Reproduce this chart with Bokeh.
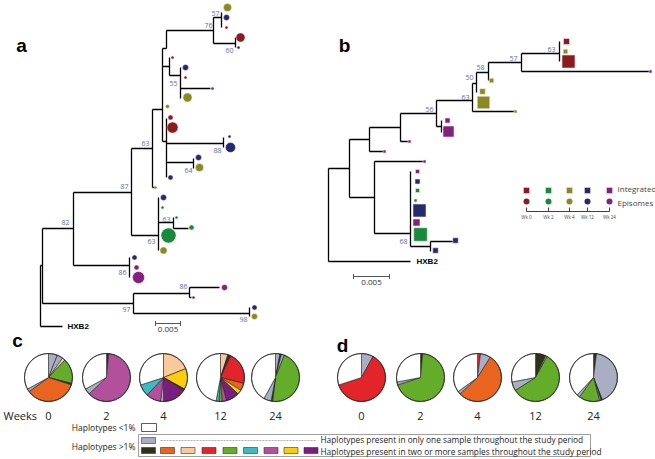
import math
from bokeh.plotting import figure
from bokeh.models import Range1d
from bokeh.core.properties import value
from bokeh.embed import file_html
from bokeh.resources import INLINE

# ---------------- data ----------------
TIP_COLORS = {"r": "#8c1b1f", "g": "#198a3b", "o": "#8a8a20", "n": "#252a6e", "p": "#84207f"}
PIE_COLORS = {"white": "#ffffff", "gray": "#a9aec3", "orange": "#e8641f", "peach": "#f9c99b",
              "red": "#e2252a", "green": "#63ad2b", "teal": "#3ebac3", "pink": "#b3509b",
              "yellow": "#fccd0c", "purple": "#7a1e7e", "dark": "#2f3119"}

# tree a: horizontal branches (x0, x1, y), vertical connectors (x, y0, y1)
A_H = [(40, 62, 326), (40, 42, 265), (42, 73, 228), (73, 131, 192), (73, 129, 265),
       (42, 133, 303), (133, 189, 293), (189, 219, 287), (189, 191, 297), (133, 249, 313),
       (131, 152, 148), (131, 158, 235), (158, 173, 222), (173, 188, 228), (152, 155, 187),
       (152, 162, 109), (162, 166, 48), (166, 213, 30), (213, 221, 17), (213, 235, 43),
       (162, 169, 66), (169, 180, 75), (180, 210, 88), (162, 166, 141), (166, 223, 143),
       (166, 193, 162)]
A_V = [(40, 265, 326), (42, 228, 303), (73, 192, 265), (129, 257, 277), (133, 293, 313),
       (189, 287, 297), (249, 307, 316), (131, 148, 235), (158, 197, 250), (173, 217, 228),
       (152, 109, 187), (162, 48, 141), (166, 30, 48), (213, 17, 43), (221, 12, 27),
       (235, 37, 47), (169, 57, 75), (180, 67, 98), (166, 118, 177), (223, 137, 147),
       (193, 158, 168)]
A_TIPS_X = [227, 226, 226, 240, 238, 172, 185, 185, 187, 212, 167, 170, 172, 229, 230, 198, 199,
            170, 155, 163, 162, 176, 191, 168, 163, 134, 136, 138, 224, 193, 254, 254]
A_TIPS_Y = [7, 17, 27, 37, 47, 57, 67, 77, 97, 88, 106, 117, 127, 136, 147, 157, 167,
            177, 187, 197, 207, 217, 227, 235, 250, 257, 267, 277, 287, 297, 307, 316]
A_TIPS_R = [4, 3, 1.5, 4.5, 1.5, 1.5, 3, 1.5, 4.5, 1.5, 2, 2.5, 5.5, 1.5, 5, 3, 4,
            2.5, 1.5, 3, 1.5, 1.5, 2.5, 7.5, 3.5, 2.5, 2.5, 6, 3, 1.5, 2.5, 3]
A_TIPS_C = ["o", "n", "r", "r", "n", "r", "n", "r", "o", "p", "o", "r", "r", "n", "n", "n", "o",
            "n", "o", "n", "g", "g", "g", "g", "o", "n", "p", "p", "p", "p", "n", "o"]
A_BOOT_X = [215, 208, 229, 173, 145, 217, 188, 124, 65, 166, 151, 122, 183, 126, 243]
A_BOOT_Y = [13, 25, 50, 83, 143, 150, 170, 186, 222, 219, 241, 272, 286, 309, 319]
A_BOOT_T = ["57", "76", "60", "55", "63", "88", "64", "87", "82", "63", "63", "86", "86", "97", "98"]

# tree b
B_H = [(328, 410, 261), (328, 349, 168), (349, 369, 139), (369, 383, 151), (369, 400, 127),
       (400, 409, 141), (400, 436, 113), (436, 441, 126), (436, 472, 100), (472, 515, 111),
       (472, 476, 83), (476, 488, 72), (488, 521, 62), (521, 649, 71), (521, 559, 53),
       (349, 374, 197), (374, 424, 161), (374, 410, 233), (410, 430, 246), (430, 453, 241)]
B_V = [(328, 168, 261), (349, 139, 197), (369, 127, 151), (400, 113, 141), (436, 100, 126),
       (441, 120, 132), (472, 83, 111), (476, 72, 92), (488, 62, 80), (521, 53, 71),
       (559, 41, 61), (374, 161, 233), (410, 171, 246), (430, 241, 251)]
B_TIPS_X = [566, 565, 568, 650, 491, 482, 483, 515, 447, 448, 409, 384, 424,
            417, 417, 417, 415, 419, 416, 420, 455, 435]
B_TIPS_Y = [41, 51, 61, 71, 80, 91, 102, 111, 120, 131, 141, 151, 161,
            171, 181, 190, 200, 210, 222, 234, 240, 250]
B_TIPS_S = [6, 4.5, 13, 3, 4.5, 5.5, 12.5, 3, 5, 11, 3, 3, 3,
            4, 5, 4, 3, 13, 7, 13.5, 5.5, 5.5]
B_TIPS_C = ["r", "o", "r", "p", "o", "o", "o", "o", "p", "p", "p", "p", "p",
            "p", "n", "g", "g", "n", "p", "g", "n", "n"]
B_BOOT_X = [551, 513, 480, 469, 465, 429, 403]
B_BOOT_Y = [49, 58, 67, 77, 97, 109, 241]
B_BOOT_T = ["63", "57", "58", "50", "63", "56", "68"]

LEG_X = [526, 548, 569, 587, 609]
LEG_C = ["r", "g", "o", "n", "p"]
LEG_WK = ["Wk 0", "Wk 2", "Wk 4", "Wk 12", "Wk 24"]

WEEKS = ["0", "2", "4", "12", "24"]
PIE_C_X = [48, 106, 163, 220, 275]
PIE_D_X = [361, 420, 477, 535, 593]
PIE_Y = 377
PIE_R = 24

PIES_C = [
    [("gray", .06), ("gray", .04), ("peach", .02), ("green", .17), ("dark", .01), ("orange", .35), ("gray", .02), ("white", .33)],
    [("dark", .015), ("pink", .615), ("gray", .04), ("white", .33)],
    [("peach", .19), ("yellow", .14), ("dark", .01), ("purple", .16), ("gray", .02), ("pink", .10), ("teal", .08), ("white", .30)],
    [("peach", .05), ("dark", .01), ("dark", .01), ("red", .22), ("orange", .05), ("yellow", .03), ("purple", .09), ("pink", .03), ("green", .02), ("teal", .02), ("white", .47)],
    [("gray", .03), ("dark", .01), ("gray", .02), ("green", .46), ("dark", .01), ("gray", .05), ("white", .42)],
]
PIES_D = [
    [("gray", .08), ("red", .62), ("white", .30)],
    [("dark", .015), ("green", .685), ("gray", .02), ("white", .28)],
    [("red", .02), ("gray", .07), ("orange", .54), ("gray", .02), ("white", .35)],
    [("dark", .07), ("gray", .01), ("green", .58), ("gray", .06), ("white", .28)],
    [("dark", .02), ("gray", .42), ("dark", .01), ("gray", .01), ("green", .14), ("gray", .02), ("white", .38)],
]
SHARED_KEYS = ["dark", "orange", "peach", "red", "green", "teal", "pink", "yellow", "purple"]

FONT = value("Open Sans")
BOOT_COLOR = "#5b6eae"

# ---------------- figure ----------------
p = figure(width=655, height=459, x_range=Range1d(0, 655), y_range=Range1d(459, 0),
           output_backend="svg", toolbar_location=None, min_border=0,
           x_axis_location=None, y_axis_location=None)
p.grid.visible = False
p.outline_line_color = None


def draw_tree(h, v, lw=1.3):
    p.segment(x0=[a for a, b, c in h], y0=[c for a, b, c in h], x1=[b for a, b, c in h], y1=[c for a, b, c in h],
              line_color="black", line_width=lw)
    p.segment(x0=[a for a, b, c in v], y0=[b for a, b, c in v], x1=[a for a, b, c in v], y1=[c for a, b, c in v],
              line_color="black", line_width=lw)


draw_tree(A_H, A_V)
draw_tree(B_H, B_V)

p.circle(x=A_TIPS_X, y=A_TIPS_Y, radius=A_TIPS_R, fill_color=[TIP_COLORS[c] for c in A_TIPS_C],
         line_color="white", line_width=0.4)
p.rect(x=B_TIPS_X, y=B_TIPS_Y, width=B_TIPS_S, height=B_TIPS_S,
       fill_color=[TIP_COLORS[c] for c in B_TIPS_C], line_color="#f4e6ea", line_width=0.6)

p.text(x=A_BOOT_X, y=A_BOOT_Y, text=A_BOOT_T, text_font=FONT, text_font_size="7px",
       text_color=BOOT_COLOR, text_align="center", text_baseline="middle")
p.text(x=B_BOOT_X, y=B_BOOT_Y, text=B_BOOT_T, text_font=FONT, text_font_size="7px",
       text_color=BOOT_COLOR, text_align="center", text_baseline="middle")

# HXB2 labels
p.text(x=[67, 416], y=[326, 261], text=["HXB2", "HXB2"], text_font=value("Liberation Sans"),
       text_font_style="bold", text_font_size="8px", text_align="left", text_baseline="middle")

# scale bars
for x0, x1, y in [(155, 180, 323), (353, 389, 276)]:
    p.segment(x0=[x0, x0, x1], y0=[y, y - 2.5, y - 2.5], x1=[x1, x0, x1], y1=[y, y + 2.5, y + 2.5],
              line_color="#555555", line_width=1)
    p.text(x=[(x0 + x1) / 2], y=[y + 6], text=["0.005"], text_font=FONT, text_font_size="8px",
           text_align="center", text_baseline="middle", text_color="#333333")

# panel letters
p.text(x=[21, 344, 17, 342], y=[45, 45, 340, 345], text=["a", "b", "c", "d"],
       text_font=value("Liberation Sans"), text_font_style="bold", text_font_size="19px",
       text_align="center", text_baseline="middle")

# legend of tree b
p.rect(x=LEG_X, y=[190] * 5, width=6, height=6, fill_color=[TIP_COLORS[c] for c in LEG_C],
       line_color="#f4e6ea", line_width=0.5)
p.circle(x=LEG_X, y=[201] * 5, radius=3, fill_color=[TIP_COLORS[c] for c in LEG_C], line_color=None)
p.segment(x0=[LEG_X[0]] + LEG_X, y0=[211] + [207] * 5, x1=[LEG_X[-1]] + LEG_X, y1=[211] * 6,
          line_color="#5d2c5c", line_width=1)
p.text(x=LEG_X, y=[216] * 5, text=LEG_WK, text_font=FONT, text_font_size="4.5px",
       text_align="center", text_baseline="middle", text_color="#444444")
p.text(x=[617, 617], y=[188, 202], text=["Integrated", "Episomes"], text_font=FONT,
       text_font_size="8px", text_align="left", text_baseline="middle", text_color="#444444")


# pies (slices run clockwise from 12 o'clock)
def draw_pies(xs, pies):
    for cx, pie in zip(xs, pies):
        total = sum(f for _, f in pie)
        acc = 0.0
        starts, ends, cols = [], [], []
        for key, f in pie:
            a = acc / total
            acc += f
            b = acc / total
            starts.append(math.pi / 2 - 2 * math.pi * b)
            ends.append(math.pi / 2 - 2 * math.pi * a)
            cols.append(PIE_COLORS[key])
        n = len(pie)
        p.wedge(x=[cx] * n, y=[PIE_Y] * n, radius=PIE_R, start_angle=starts, end_angle=ends,
                direction="anticlock", fill_color=cols, line_color="#222222", line_width=0.6)
        p.circle(x=[cx], y=[PIE_Y], radius=PIE_R, fill_color=None, line_color="#222222", line_width=0.8)


draw_pies(PIE_C_X, PIES_C)
draw_pies(PIE_D_X, PIES_D)

p.text(x=PIE_C_X + PIE_D_X, y=[415] * 10, text=WEEKS + WEEKS, text_font=FONT, text_font_size="11px",
       text_align="center", text_baseline="middle", text_color="#222222")
p.text(x=[3], y=[415], text=["Weeks"], text_font=FONT, text_font_size="11px",
       text_align="left", text_baseline="middle", text_color="#222222")

# bottom legend
p.text(x=[135, 135], y=[427, 446], text=["Haplotypes <1%", "Haplotypes >1%"], text_font=FONT,
       text_font_size="8.5px", text_align="right", text_baseline="middle", text_color="#222222")
p.rect(x=[148.5], y=[427], width=15, height=8, fill_color="white", line_color="#333333", line_width=0.8)
p.quad(left=[138], right=[590], top=[434], bottom=[456], fill_color=None, line_color="#888888", line_width=0.8)
p.rect(x=[148], y=[440], width=14, height=6, fill_color=PIE_COLORS["gray"], line_color="#333333", line_width=0.6)
p.segment(x0=[160], y0=[440], x1=[315], y1=[440], line_color="#777777", line_width=0.6, line_dash="2 1")
leg_x = [148, 167, 187.5, 208.5, 229.5, 250, 270.5, 290.5, 310.5]
p.rect(x=leg_x, y=[450] * 9, width=14, height=6, fill_color=[PIE_COLORS[k] for k in SHARED_KEYS],
       line_color="#333333", line_width=0.6)
p.text(x=[320, 320], y=[439, 451],
       text=["Haplotypes present in only one sample throughout the study period",
             "Haplotypes present in two or more samples throughout the study period"],
       text_font=FONT, text_font_size="8.3px", text_align="left", text_baseline="middle", text_color="#222222")

open("out.html", "w").write(file_html(p, INLINE))
